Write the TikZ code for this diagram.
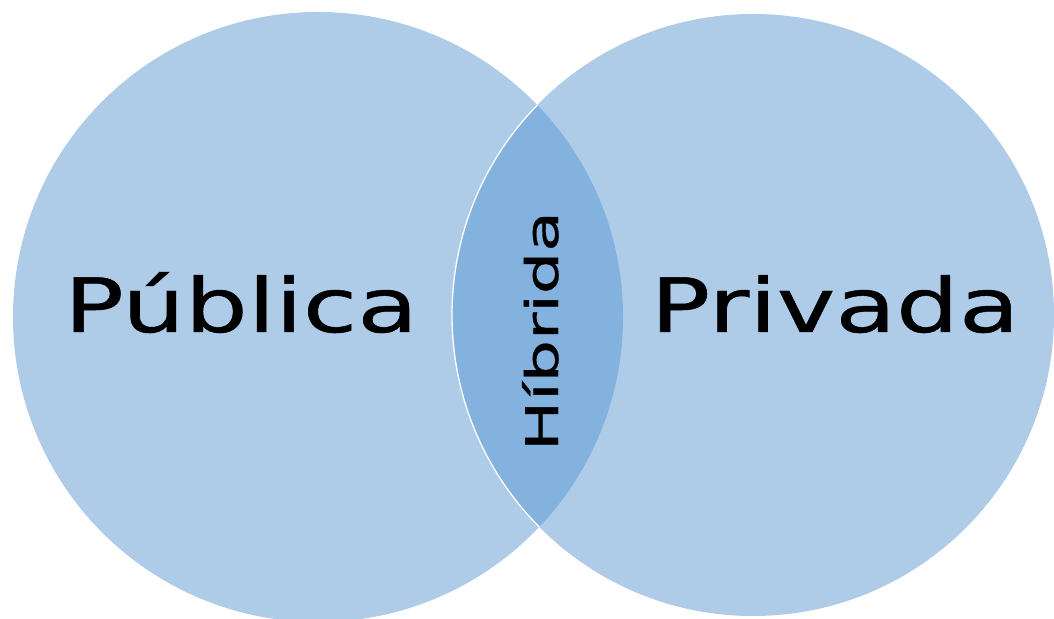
\documentclass[tikz,border=0pt]{standalone}
\usepackage{fontspec}
\setmainfont{DejaVu Sans}
\newfontfamily\vennfont{DejaVu Sans}[FakeBold=0.6]
\usepackage{tikz}
\definecolor{vennlight}{RGB}{174,203,232}
\definecolor{venndark}{RGB}{131,178,222}

\begin{document}
\begin{tikzpicture}[x=1pt, y=1pt,
        biglabel/.style={anchor=base, inner sep=0pt, xscale=1.32, font=\vennfont\fontsize{75}{80}\selectfont},
        smalllabel/.style={anchor=base, inner sep=0pt, rotate=90, xscale=1.48, font=\vennfont\fontsize{45}{50}\selectfont}]
        \clip (0,0) rectangle (1054,618);
        % the two sets
        \fill[vennlight] (318,301) circle (305);
        \fill[vennlight] (753,303) circle (301);
        % overlap of both sets
        \begin{scope}
            \clip (318,301) circle (305);
            \fill[venndark] (753,303) circle (301);
            \draw[white, line width=1.3pt] (753,303) circle (301);
        \end{scope}
        \node[biglabel] (publica) at (241,286) {Pública};
        \node[biglabel] (privada) at (835,286) {Privada};
        \node[smalllabel] (hibrida) at (558,287) {Híbrida};
    \end{tikzpicture}
\end{document}
